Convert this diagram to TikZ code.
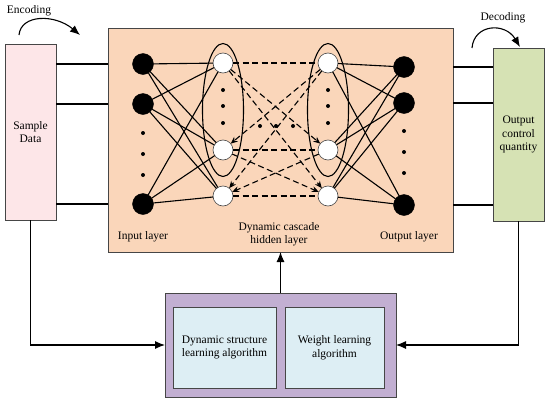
\documentclass[tikz,border=0pt]{standalone}
\usepackage{fontspec}
\setmainfont{Liberation Serif}
\usetikzlibrary{arrows.meta,shapes.geometric}
\definecolor{peach}{RGB}{250,214,186}
\definecolor{pinkbox}{RGB}{253,230,232}
\definecolor{greenbox}{RGB}{214,226,180}
\definecolor{purplebox}{RGB}{194,175,210}
\definecolor{bluebox}{RGB}{221,238,244}
\definecolor{edge}{RGB}{70,70,70}
\begin{document}
\begin{tikzpicture}[x=1pt,y=-1pt,
  font=\fontsize{11.5}{13.5}\selectfont,
  box/.style={draw=edge,line width=1pt,rectangle,inner sep=0pt,outer sep=0pt,align=center},
  inn/.style={circle,fill=black,draw=black,minimum size=21pt,inner sep=0pt,outer sep=0pt},
  hid/.style={circle,fill=white,draw=edge,line width=0.6pt,minimum size=20pt,inner sep=0pt,outer sep=0pt},
  dotn/.style={circle,fill=black,minimum size=4pt,inner sep=0pt},
  conn/.style={line width=1.1pt},
  dconn/.style={line width=1.1pt,dash pattern=on 6pt off 3.5pt},
  da/.style={dconn,-{Stealth[length=7pt,width=6pt]}},
  flow/.style={line width=1.1pt,-{Latex[length=10pt,width=8pt]}},
  grp/.style={draw=black,line width=1.1pt,ellipse,inner sep=0pt,minimum width=41pt,minimum height=133pt}
]
\useasboundingbox (0,0) rectangle (550,402);

% boxes
\node[box,fill=pinkbox,minimum width=51pt,minimum height=176pt] (sd) at (30.5,132) {Sample\\Data};
\node[box,fill=peach,minimum width=345pt,minimum height=224pt] (main) at (280.5,140) {};
\node[box,fill=greenbox,minimum width=51pt,minimum height=173pt] (out) at (518.5,134.5) {Output\\control\\quantity};
\node[box,fill=purplebox,minimum width=231pt,minimum height=104pt] (alg) at (280.5,345) {};
\node[box,fill=bluebox,minimum width=103pt,minimum height=81pt] (dsl) at (224.5,347.5) {Dynamic structure\\learning algorithm};
\node[box,fill=bluebox,minimum width=99pt,minimum height=81pt] (wla) at (334.5,347.5) {Weight learning\\algorithm};

% ellipses
\node[grp] (gl) at (223,110) {};
\node[grp] (gr) at (328,110) {};

% nodes
\node[inn] (i1) at (143,64) {};
\node[inn] (i2) at (143,104) {};
\node[inn] (i3) at (143,204) {};
\node[hid] (l1) at (223,63) {};
\node[hid] (l2) at (223,150) {};
\node[hid] (l3) at (223,196) {};
\node[hid] (r1) at (328,63) {};
\node[hid] (r2) at (328,150) {};
\node[hid] (r3) at (328,196) {};
\node[inn] (o1) at (404,67) {};
\node[inn] (o2) at (404,103) {};
\node[inn] (o3) at (404,205) {};

% dots
\foreach \y [count=\k] in {133,154,175}{\node[dotn] (di\k) at (143,\y) {};}
\foreach \y [count=\k] in {90,106,123}{\node[dotn] (dl\k) at (223,\y) {};}
\foreach \y [count=\k] in {90,106,123}{\node[dotn] (dr\k) at (328,\y) {};}
\foreach \y [count=\k] in {131,152,173}{\node[dotn] (do\k) at (404,\y) {};}
\foreach \x [count=\k] in {260,276,293}{\node[dotn] (dm\k) at (\x,126) {};}

% solid connections
\foreach \a in {i1,i2,i3}{\foreach \b in {l1,l2,l3}{\draw[conn] (\a) -- (\b);}}
\foreach \a in {r1,r2,r3}{\foreach \b in {o1,o2,o3}{\draw[conn] (\a) -- (\b);}}

% dashed connections
\draw[dconn] (l1) -- (r1);
\draw[dconn] (l2) -- (r2);
\draw[dconn] (l3) -- (r3);
\draw[da] (l1) -- (r2);
\draw[da] (l1) -- (r3);
\draw[da] (r1) -- (l2);
\draw[da] (r1) -- (l3);
\draw[da] (l2) -- (r3);
\draw[da] (r2) -- (l3);

% labels
\node (lin) at (143,237) {Input layer};
\node[align=center] (lhid) at (279,234) {Dynamic cascade\\hidden layer};
\node (lout) at (409,237) {Output layer};
\node (enc) at (29,11) {Encoding};
\node (dec) at (503,18) {Decoding};

% io lines
\foreach \n in {i1,i2,i3}{\draw[conn] (sd.east |- \n) -- (main.west |- \n);}
\foreach \n in {o1,o2,o3}{\draw[conn] (main.east |- \n) -- (out.west |- \n);}

% encoding / decoding curved arrows
\coordinate (es) at (19,35);
\coordinate (ee) at (80,35);
\coordinate (ds) at (472,48);
\coordinate (de) at (520,47);
\draw[flow] (es) .. controls (21,14) and (55,14) .. (ee);
\draw[flow] (ds) .. controls (474,24) and (505,22) .. (de);

% feedback arrows
\draw[flow] (alg.north) -- (main.south);
\draw[flow] (sd.south) |- (alg.west);
\draw[flow] (out.south) |- (alg.east);
\end{tikzpicture}
\end{document}
